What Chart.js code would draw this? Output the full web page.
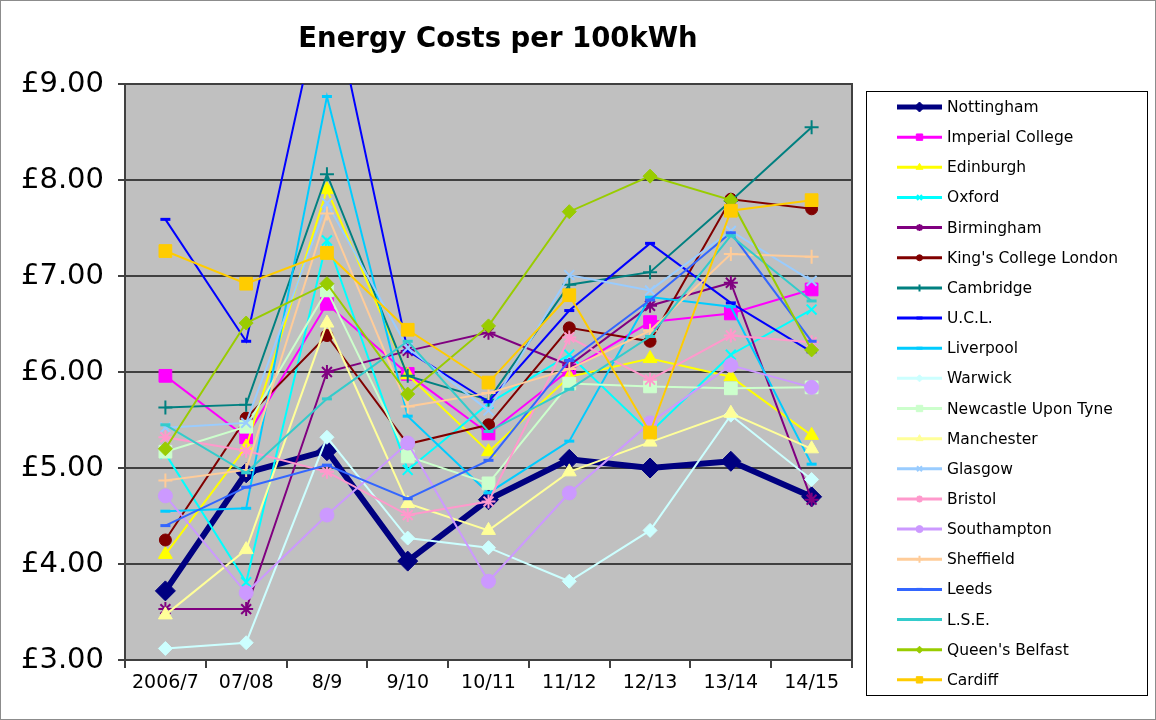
<!DOCTYPE html>
<html>
<head>
<meta charset="utf-8">
<script src="https://cdn.jsdelivr.net/npm/chart.js@4.4.0/dist/chart.umd.min.js"></script>
<style>
  html, body { margin: 0; padding: 0; background: #fff; }
  #wrap { width: 1156px; height: 720px; }
</style>
</head>
<body>
<div id="wrap"><canvas id="chart" width="1156" height="720"></canvas></div>
<script>
// --- Data ---
const categories = ['2006/7', '07/08', '8/9', '9/10', '10/11', '11/12', '12/13', '13/14', '14/15'];
const yTicks = [3, 4, 5, 6, 7, 8, 9];

const nottingham  = [3.72, 4.95, 5.18, 4.03, 4.67, 5.09, 5.00, 5.07, 4.70];
const imperial    = [5.96, 5.32, 6.71, 5.98, 5.36, 6.02, 6.52, 6.61, 6.86];
const edinburgh   = [4.10, 5.22, 7.90, 5.97, 5.17, 5.95, 6.14, 5.95, 5.34];
const oxford      = [5.15, 3.81, 7.37, 4.98, 5.67, 6.18, 5.37, 6.18, 6.65];
const birmingham  = [3.53, 3.53, 6.00, 6.22, 6.41, 6.07, 6.69, 6.93, 4.67];
const kings       = [4.25, 5.52, 6.38, 5.25, 5.45, 6.46, 6.32, 7.80, 7.70];
const cambridge   = [5.63, 5.66, 8.06, 5.96, 5.71, 6.91, 7.04, 7.78, 8.55];
const ucl         = [7.59, 6.32, 10.15, 6.22, 5.69, 6.64, 7.34, 6.72, 6.21];
const liverpool   = [4.55, 4.58, 8.87, 5.54, 4.74, 5.28, 6.78, 6.68, 5.04];
const warwick     = [3.12, 3.18, 5.32, 4.27, 4.17, 3.82, 4.35, 5.55, 4.88];
const newcastle   = [5.17, 5.43, 6.85, 5.12, 4.84, 5.88, 5.85, 5.83, 5.84];
const manchester  = [3.47, 4.15, 6.51, 4.63, 4.35, 4.96, 5.27, 5.57, 5.20];
const glasgow     = [5.42, 5.47, 7.76, 6.25, 5.60, 7.01, 6.85, 7.47, 6.95];
const bristol     = [5.32, 5.18, 4.96, 4.51, 4.65, 6.36, 5.92, 6.38, 6.31];
const southampton = [4.71, 3.70, 4.51, 5.26, 3.82, 4.74, 5.47, 6.07, 5.84];
const sheffield   = [4.87, 4.98, 7.65, 5.64, 5.78, 6.03, 6.43, 7.23, 7.20];
const leeds       = [4.40, 4.80, 5.03, 4.68, 5.08, 6.12, 6.75, 7.45, 6.32];
const lse         = [5.45, 4.95, 5.72, 6.32, 5.38, 5.82, 6.37, 7.42, 6.74];
const belfast     = [5.20, 6.51, 6.92, 5.77, 6.48, 7.67, 8.04, 7.79, 6.23];
const cardiff     = [7.26, 6.92, 7.24, 6.44, 5.89, 6.80, 5.37, 7.68, 7.79];

// --- Series: name, values, style ---
const series = [
    { label: 'Nottingham',            data: nottingham,  color: '#000080', marker: 'rectRot',  r: 10, width: 6 },
    { label: 'Imperial College',      data: imperial,    color: '#FF00FF', marker: 'rect',     r: 9 },
    { label: 'Edinburgh',             data: edinburgh,   color: '#FFFF00', marker: 'triangle', r: 8 },
    { label: 'Oxford',                data: oxford,      color: '#00FFFF', marker: 'crossRot', r: 7, pw: 2 },
    { label: 'Birmingham',            data: birmingham,  color: '#800080', marker: 'star',     r: 7, pw: 2 },
    { label: "King's College London", data: kings,       color: '#800000', marker: 'circle',   r: 6 },
    { label: 'Cambridge',             data: cambridge,   color: '#008080', marker: 'cross',    r: 7, pw: 2 },
    { label: 'U.C.L.',                data: ucl,         color: '#0000FF', marker: 'line',     r: 5, pw: 3 },
    { label: 'Liverpool',             data: liverpool,   color: '#00CCFF', marker: 'line',     r: 5, pw: 3 },
    { label: 'Warwick',               data: warwick,     color: '#CCFFFF', marker: 'rectRot',  r: 7 },
    { label: 'Newcastle Upon Tyne',   data: newcastle,   color: '#CCFFCC', marker: 'rect',     r: 9 },
    { label: 'Manchester',            data: manchester,  color: '#FFFF99', marker: 'triangle', r: 8 },
    { label: 'Glasgow',               data: glasgow,     color: '#99CCFF', marker: 'crossRot', r: 7, pw: 2 },
    { label: 'Bristol',               data: bristol,     color: '#FF99CC', marker: 'star',     r: 7, pw: 2 },
    { label: 'Southampton',           data: southampton, color: '#CC99FF', marker: 'circle',   r: 7 },
    { label: 'Sheffield',             data: sheffield,   color: '#FFCC99', marker: 'cross',    r: 7, pw: 2 },
    { label: 'Leeds',                 data: leeds,       color: '#3366FF', marker: 'line',     r: 5, pw: 3 },
    { label: 'L.S.E.',                data: lse,         color: '#33CCCC', marker: 'line',     r: 5, pw: 3 },
    { label: "Queen's Belfast",       data: belfast,     color: '#99CC00', marker: 'rectRot',  r: 7 },
    { label: 'Cardiff',               data: cardiff,     color: '#FFCC00', marker: 'rect',     r: 9 }
];

const FONT = '"DejaVu Sans", Verdana, sans-serif';

// background, plot area fill, frame, title and legend
const framePlugin = {
    id: 'frame',
    beforeDraw(chart) {
        const { ctx, chartArea: a } = chart;
        ctx.save();
        ctx.fillStyle = '#fff';
        ctx.fillRect(0, 0, chart.width, chart.height);
        ctx.fillStyle = '#C0C0C0';
        ctx.fillRect(a.left, a.top, a.right - a.left, a.bottom - a.top);
        ctx.strokeStyle = '#8c8c8c';
        ctx.lineWidth = 1;
        ctx.strokeRect(0.5, 0.5, chart.width - 1, chart.height - 1);
        ctx.restore();
    },
    beforeDatasetsDraw(chart) {
        const { ctx, chartArea: a } = chart;
        ctx.save();
        ctx.strokeStyle = '#404040';
        ctx.lineWidth = 2;
        ctx.strokeRect(a.left, a.top, a.right - a.left, a.bottom - a.top);
        ctx.restore();
    },
    afterDraw(chart) {
        const ctx = chart.ctx;
        ctx.save();
        // title
        ctx.fillStyle = '#000';
        ctx.font = 'bold 27.5px ' + FONT;
        ctx.textAlign = 'center';
        ctx.textBaseline = 'middle';
        ctx.fillText('Energy Costs per 100kWh', 498, 40);

        // legend
        const box = { x: 866, y: 91, w: 281, h: 604 };
        ctx.fillStyle = '#fff';
        ctx.fillRect(box.x, box.y, box.w, box.h);
        ctx.strokeStyle = '#000';
        ctx.lineWidth = 1;
        ctx.strokeRect(box.x + 0.5, box.y + 0.5, box.w, box.h);

        ctx.font = '15.5px ' + FONT;
        ctx.textAlign = 'left';
        ctx.textBaseline = 'middle';
        series.forEach((s, i) => {
            const y = 107 + i * 30.15;
            ctx.strokeStyle = s.color;
            ctx.fillStyle = s.color;
            ctx.lineWidth = s.width ? 5 : 3;
            ctx.beginPath();
            ctx.moveTo(897, y);
            ctx.lineTo(942, y);
            ctx.stroke();
            ctx.lineWidth = s.pw || 1;
            Chart.helpers.drawPoint(ctx, {
                pointStyle: s.marker,
                radius: s.marker === 'line' ? 3 : Math.max(3, s.r * 0.5),
                rotation: 0,
                borderWidth: s.pw || 1
            }, 919.5, y);
            ctx.fillStyle = '#000';
            ctx.fillText(s.label, 947, y + 1);
        });
        ctx.restore();
    }
};

const datasets = series.map((s, i) => ({
    label: s.label,
    data: s.data,
    borderColor: s.color,
    backgroundColor: s.color,
    borderWidth: s.width || 2,
    pointStyle: s.marker,
    pointRadius: s.r,
    pointBorderWidth: s.pw || 1,
    pointBackgroundColor: s.color,
    pointBorderColor: s.color,
    tension: 0,
    fill: false,
    order: series.length - i
}));

new Chart(document.getElementById('chart').getContext('2d'), {
    type: 'line',
    data: { labels: categories, datasets: datasets },
    options: {
        responsive: false,
        devicePixelRatio: 1,
        animation: false,
        layout: { padding: { top: 84, right: 304, bottom: 0, left: 0 } },
        plugins: {
            legend: { display: false },
            title: { display: false },
            tooltip: { enabled: false }
        },
        scales: {
            x: {
                type: 'category',
                offset: true,
                afterFit(scale) { scale.height = 60; },
                grid: {
                    offset: true,
                    drawOnChartArea: false,
                    tickLength: 8,
                    color: '#404040',
                    lineWidth: 2
                },
                border: { color: '#404040', width: 2 },
                ticks: { color: '#000', font: { family: FONT, size: 19 }, padding: 4, maxRotation: 0 }
            },
            y: {
                min: 3,
                max: 9,
                afterFit(scale) { scale.width = 125; },
                afterBuildTicks(scale) { scale.ticks = yTicks.map(v => ({ value: v })); },
                grid: { color: '#404040', lineWidth: 2, tickLength: 7 },
                border: { color: '#404040', width: 2 },
                ticks: {
                    color: '#000',
                    font: { family: FONT, size: 29 },
                    padding: 14,
                    callback: v => '£' + Number(v).toFixed(2)
                }
            }
        }
    },
    plugins: [framePlugin]
});
</script>
</body>
</html>
